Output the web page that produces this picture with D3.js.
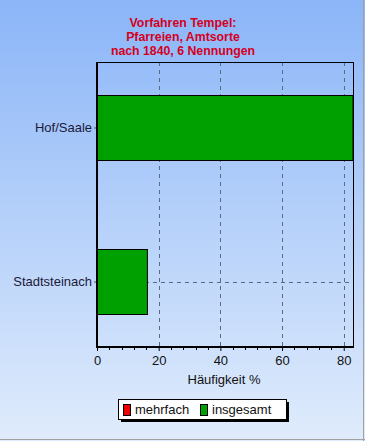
<!DOCTYPE html>
<html>
<head>
<meta charset="utf-8">
<script src="https://cdn.jsdelivr.net/npm/d3@7"></script>
<style>
  body { margin: 0; padding: 0; }
  svg { display: block; font-family: "Liberation Sans", Arial, sans-serif; }
</style>
</head>
<body>
<svg id="chart"></svg>
<script>
// Data
const titleLines = ['Vorfahren Tempel:', 'Pfarreien, Amtsorte', 'nach 1840, 6 Nennungen'];
const categories = ['Hof/Saale', 'Stadtsteinach'];
const values = [83.33, 16.67];
const xTicks = [0, 20, 40, 60, 80];
const legendLabels = ['mehrfach', 'insgesamt'];
const legendColors = ['#ee0000', '#00a000'];

const width = 365, height = 441;
const margin = { top: 62, right: 11, bottom: 94, left: 97 };
const innerWidth = width - margin.left - margin.right;
const innerHeight = height - margin.top - margin.bottom;
const fontFamily = '"Liberation Sans", Arial, sans-serif';

const svg = d3.select('#chart').attr('width', width).attr('height', height);

// Background gradient
const defs = svg.append('defs');
const grad = defs.append('linearGradient')
  .attr('id', 'bg').attr('x1', 0).attr('y1', 0).attr('x2', 0).attr('y2', 1);
grad.append('stop').attr('offset', '0%').attr('stop-color', '#8bb5f8');
grad.append('stop').attr('offset', '100%').attr('stop-color', '#e0ecfc');

svg.append('rect')
  .attr('width', width).attr('height', height)
  .attr('fill', 'url(#bg)');
// window edge
svg.append('line').attr('x1', width - 1.5).attr('x2', width - 1.5).attr('y1', 0).attr('y2', height)
  .attr('stroke', '#a0a0a0').attr('stroke-width', 1);
svg.append('line').attr('x1', 0).attr('x2', width).attr('y1', height - 1.5).attr('y2', height - 1.5)
  .attr('stroke', '#a0a0a0').attr('stroke-width', 1);

// Title
svg.append('g')
  .selectAll('text')
  .data(titleLines)
  .enter()
  .append('text')
  .attr('x', 183)
  .attr('y', (d, i) => 27 + i * 14)
  .attr('text-anchor', 'middle')
  .style('font-size', '12.3px')
  .style('font-weight', 'bold')
  .style('fill', '#d4001e')
  .text(d => d);

const chart = svg.append('g')
  .attr('transform', `translate(${margin.left}, ${margin.top})`);

// Scales
const xScale = d3.scaleLinear()
  .domain([0, 83.33])
  .range([0, innerWidth]);

const yScale = d3.scalePoint()
  .domain(categories)
  .range([0, innerHeight])
  .padding(0.425);

const barHeight = 65;

// Grid lines
chart.append('g')
  .selectAll('line')
  .data(xTicks.filter(d => d > 0))
  .enter()
  .append('line')
  .attr('x1', d => Math.round(xScale(d)) + 0.5)
  .attr('x2', d => Math.round(xScale(d)) + 0.5)
  .attr('y1', 0).attr('y2', innerHeight)
  .attr('stroke', '#5a6a80')
  .attr('stroke-width', 1)
  .attr('stroke-dasharray', '4,4');

chart.append('g')
  .selectAll('line')
  .data(categories)
  .enter()
  .append('line')
  .attr('x1', 0).attr('x2', innerWidth)
  .attr('y1', d => Math.round(yScale(d)) + 0.5)
  .attr('y2', d => Math.round(yScale(d)) + 0.5)
  .attr('stroke', '#5a6a80')
  .attr('stroke-width', 1)
  .attr('stroke-dasharray', '4,4');

// Bars
chart.append('g')
  .selectAll('rect')
  .data(categories)
  .enter()
  .append('rect')
  .attr('x', 0)
  .attr('y', d => Math.round(yScale(d) - barHeight / 2) + 0.5)
  .attr('width', (d, i) => xScale(values[i]) - 1)
  .attr('height', barHeight)
  .attr('fill', '#00a000')
  .attr('stroke', '#000')
  .attr('stroke-width', 1);

// Frame
chart.append('rect')
  .attr('x', 0.5).attr('y', 0.5)
  .attr('width', innerWidth - 1).attr('height', innerHeight - 1)
  .attr('fill', 'none')
  .attr('stroke', '#000')
  .attr('stroke-width', 1);

// X axis
const xAxis = chart.append('g')
  .attr('transform', `translate(0, ${innerHeight})`)
  .call(d3.axisBottom(xScale).tickValues(xTicks).tickSize(4).tickPadding(5));
xAxis.attr('font-family', fontFamily).attr('font-size', 13);
xAxis.select('.domain').remove();
xAxis.selectAll('text').attr('fill', '#111');

// minor ticks every 4
chart.append('g')
  .attr('transform', `translate(0, ${innerHeight})`)
  .selectAll('line')
  .data(d3.range(4, 84, 4).filter(d => d % 20 !== 0))
  .enter()
  .append('line')
  .attr('x1', d => Math.round(xScale(d)) + 0.5)
  .attr('x2', d => Math.round(xScale(d)) + 0.5)
  .attr('y1', 0).attr('y2', 3)
  .attr('stroke', '#000');

chart.append('line')
  .attr('x1', -1).attr('x2', innerWidth)
  .attr('y1', innerHeight).attr('y2', innerHeight)
  .attr('stroke', '#000').attr('stroke-width', 2);

// Y axis
const yAxis = chart.append('g')
  .call(d3.axisLeft(yScale).tickSize(3).tickPadding(2));
yAxis.attr('font-family', fontFamily).attr('font-size', 13);
yAxis.select('.domain').remove();
yAxis.selectAll('text').attr('fill', '#1a1a3a');
yAxis.selectAll('.tick line').attr('stroke', '#555');

chart.append('line')
  .attr('x1', 0).attr('x2', 0)
  .attr('y1', 0).attr('y2', innerHeight + 1)
  .attr('stroke', '#000').attr('stroke-width', 2);

// X axis label
svg.append('text')
  .attr('x', 224).attr('y', 384)
  .attr('text-anchor', 'middle')
  .style('font-size', '13px')
  .style('fill', '#111')
  .text('Häufigkeit %');

// Legend
const legend = svg.append('g').attr('transform', 'translate(118, 399)');
legend.append('rect')
  .attr('x', 3).attr('y', 3).attr('width', 168).attr('height', 20)
  .attr('fill', '#000');
legend.append('rect')
  .attr('x', 0.5).attr('y', 0.5).attr('width', 168).attr('height', 20)
  .attr('fill', '#fff').attr('stroke', '#000');

const legendOffsets = [5, 82];
const items = legend.selectAll('.legend-item')
  .data(legendLabels)
  .enter()
  .append('g')
  .attr('class', 'legend-item')
  .attr('transform', (d, i) => `translate(${legendOffsets[i]}, 0)`);

items.append('rect')
  .attr('x', 0.5).attr('y', 5.5).attr('width', 7).attr('height', 11)
  .attr('fill', (d, i) => legendColors[i])
  .attr('stroke', '#000');

items.append('text')
  .attr('x', 12).attr('y', 15)
  .style('font-size', '13px')
  .style('fill', '#111')
  .text(d => d);
</script>
</body>
</html>
